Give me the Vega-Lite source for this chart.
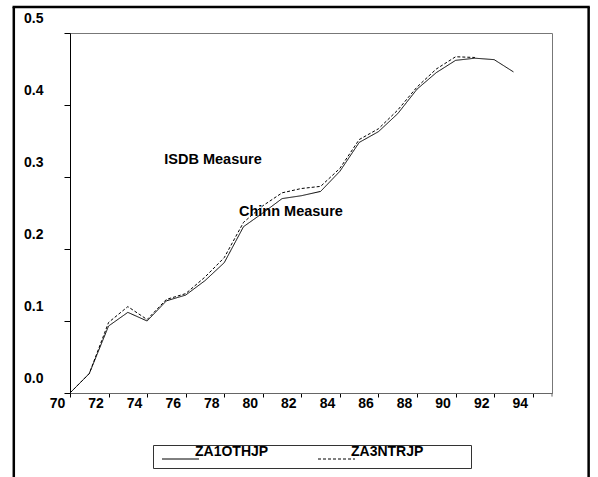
{
  "$schema": "https://vega.github.io/schema/vega-lite/v6.json",
  "autosize": "none",
  "width": 482,
  "height": 360,
  "padding": {"left": 70, "top": 33, "right": 46, "bottom": 84},
  "background": "white",
  "config": {
    "view": {"stroke": "#777777", "strokeWidth": 1},
    "font": "Liberation Sans",
    "axis": {"grid": false, "labelFont": "Liberation Sans", "labelFontWeight": "bold", "labelFontSize": 14, "labelColor": "black", "tickColor": "black", "title": null, "labelOverlap": false, "labelFlush": false}
  },
  "datasets": {
    "series": [
      {"year": 70, "value": 0.0, "series": "ZA1OTHJP"},
      {"year": 71, "value": 0.027, "series": "ZA1OTHJP"},
      {"year": 72, "value": 0.093, "series": "ZA1OTHJP"},
      {"year": 73, "value": 0.112, "series": "ZA1OTHJP"},
      {"year": 74, "value": 0.100, "series": "ZA1OTHJP"},
      {"year": 75, "value": 0.128, "series": "ZA1OTHJP"},
      {"year": 76, "value": 0.136, "series": "ZA1OTHJP"},
      {"year": 77, "value": 0.156, "series": "ZA1OTHJP"},
      {"year": 78, "value": 0.181, "series": "ZA1OTHJP"},
      {"year": 79, "value": 0.231, "series": "ZA1OTHJP"},
      {"year": 80, "value": 0.250, "series": "ZA1OTHJP"},
      {"year": 81, "value": 0.270, "series": "ZA1OTHJP"},
      {"year": 82, "value": 0.274, "series": "ZA1OTHJP"},
      {"year": 83, "value": 0.280, "series": "ZA1OTHJP"},
      {"year": 84, "value": 0.308, "series": "ZA1OTHJP"},
      {"year": 85, "value": 0.348, "series": "ZA1OTHJP"},
      {"year": 86, "value": 0.363, "series": "ZA1OTHJP"},
      {"year": 87, "value": 0.388, "series": "ZA1OTHJP"},
      {"year": 88, "value": 0.422, "series": "ZA1OTHJP"},
      {"year": 89, "value": 0.445, "series": "ZA1OTHJP"},
      {"year": 90, "value": 0.462, "series": "ZA1OTHJP"},
      {"year": 91, "value": 0.465, "series": "ZA1OTHJP"},
      {"year": 92, "value": 0.463, "series": "ZA1OTHJP"},
      {"year": 93, "value": 0.446, "series": "ZA1OTHJP"},
      {"year": 70, "value": 0.0, "series": "ZA3NTRJP"},
      {"year": 71, "value": 0.027, "series": "ZA3NTRJP"},
      {"year": 72, "value": 0.098, "series": "ZA3NTRJP"},
      {"year": 73, "value": 0.120, "series": "ZA3NTRJP"},
      {"year": 74, "value": 0.102, "series": "ZA3NTRJP"},
      {"year": 75, "value": 0.130, "series": "ZA3NTRJP"},
      {"year": 76, "value": 0.138, "series": "ZA3NTRJP"},
      {"year": 77, "value": 0.161, "series": "ZA3NTRJP"},
      {"year": 78, "value": 0.188, "series": "ZA3NTRJP"},
      {"year": 79, "value": 0.237, "series": "ZA3NTRJP"},
      {"year": 80, "value": 0.260, "series": "ZA3NTRJP"},
      {"year": 81, "value": 0.278, "series": "ZA3NTRJP"},
      {"year": 82, "value": 0.284, "series": "ZA3NTRJP"},
      {"year": 83, "value": 0.287, "series": "ZA3NTRJP"},
      {"year": 84, "value": 0.312, "series": "ZA3NTRJP"},
      {"year": 85, "value": 0.352, "series": "ZA3NTRJP"},
      {"year": 86, "value": 0.367, "series": "ZA3NTRJP"},
      {"year": 87, "value": 0.393, "series": "ZA3NTRJP"},
      {"year": 88, "value": 0.425, "series": "ZA3NTRJP"},
      {"year": 89, "value": 0.450, "series": "ZA3NTRJP"},
      {"year": 90, "value": 0.467, "series": "ZA3NTRJP"},
      {"year": 91, "value": 0.466, "series": "ZA3NTRJP"}
    ]
  },
  "layer": [
    {
      "data": {"name": "series"},
      "mark": {"type": "line", "color": "black", "strokeWidth": 1},
      "encoding": {
        "x": {
          "field": "year", "type": "quantitative",
          "scale": {"domain": [70, 95], "nice": false, "zero": false},
          "axis": {
            "values": [70, 72, 74, 76, 78, 80, 82, 84, 86, 88, 90, 92, 94],
            "format": "d",
            "domainColor": "#666666", "tickSize": 4, "labelPadding": -1, "labelOffset": -13,
            "labelFlush": false, "labelOverlap": false
          }
        },
        "y": {
          "field": "value", "type": "quantitative",
          "scale": {"domain": [0, 0.5], "nice": false, "zero": false},
          "axis": {
            "values": [0, 0.1, 0.2, 0.3, 0.4, 0.5],
            "format": ".1f", "domainColor": "black", "tickSize": 6,
            "labelPadding": 21, "labelOffset": -15, "labelBaseline": "middle", "labelAlign": "right",
            "labelFlush": false, "labelOverlap": false
          }
        },
        "strokeDash": {
          "field": "series", "type": "nominal",
          "scale": {"domain": ["ZA1OTHJP", "ZA3NTRJP"], "range": [[1, 0], [3, 2]]},
          "legend": {
            "title": null, "orient": "none", "direction": "horizontal",
            "legendX": 83, "legendY": 412,
            "fillColor": "white", "strokeColor": "#333333", "padding": 7,
            "symbolType": "M-1,0H6.4", "symbolSize": 100, "symbolStrokeColor": "black", "symbolStrokeWidth": 1, "symbolFillColor": "transparent",
            "labelFont": "Liberation Sans", "labelFontWeight": "bold", "labelFontSize": 14, "labelColor": "black",
            "labelBaseline": "bottom", "labelOffset": 21, "columnPadding": 47,
            "labelExpr": "datum.label == 'ZA3NTRJP' ? datum.label + '\u2800\u2800\u2800\u2800' : datum.label"
          }
        }
      }
    },
    {
      "data": {"values": [{}]},
      "mark": {"type": "text", "text": "ISDB Measure", "font": "Liberation Sans", "fontWeight": "bold", "fontSize": 14.5, "color": "black", "align": "center", "baseline": "middle"},
      "encoding": {"x": {"datum": 77.42, "type": "quantitative"}, "y": {"datum": 0.3236, "type": "quantitative"}}
    },
    {
      "data": {"values": [{}]},
      "mark": {"type": "text", "text": "Chinn Measure", "font": "Liberation Sans", "fontWeight": "bold", "fontSize": 14.5, "color": "black", "align": "center", "baseline": "middle"},
      "encoding": {"x": {"datum": 81.46, "type": "quantitative"}, "y": {"datum": 0.2507, "type": "quantitative"}}
    },
    {
      "data": {"values": [{}]},
      "mark": {"type": "rule", "color": "black", "strokeWidth": 2.5},
      "encoding": {"x": {"datum": 67.085, "type": "quantitative"}, "y": {"datum": 0.5361, "type": "quantitative"}, "y2": {"datum": -0.14}}
    },
    {
      "data": {"values": [{}]},
      "mark": {"type": "rule", "color": "black", "strokeWidth": 2.5},
      "encoding": {"x": {"datum": 96.9, "type": "quantitative"}, "y": {"datum": 0.5361, "type": "quantitative"}, "y2": {"datum": -0.14}}
    },
    {
      "data": {"values": [{}]},
      "mark": {"type": "rule", "color": "black", "strokeWidth": 2.5},
      "encoding": {"x": {"datum": 67.02, "type": "quantitative"}, "x2": {"datum": 96.96}, "y": {"datum": 0.5361, "type": "quantitative"}}
    },
    {
      "data": {"values": [{}]},
      "mark": {"type": "rule", "color": "#666666", "strokeWidth": 1},
      "encoding": {"x": {"datum": 95, "type": "quantitative"}, "y": {"datum": 0, "type": "quantitative"}, "y2": {"datum": -0.005}}
    }
  ]
}
